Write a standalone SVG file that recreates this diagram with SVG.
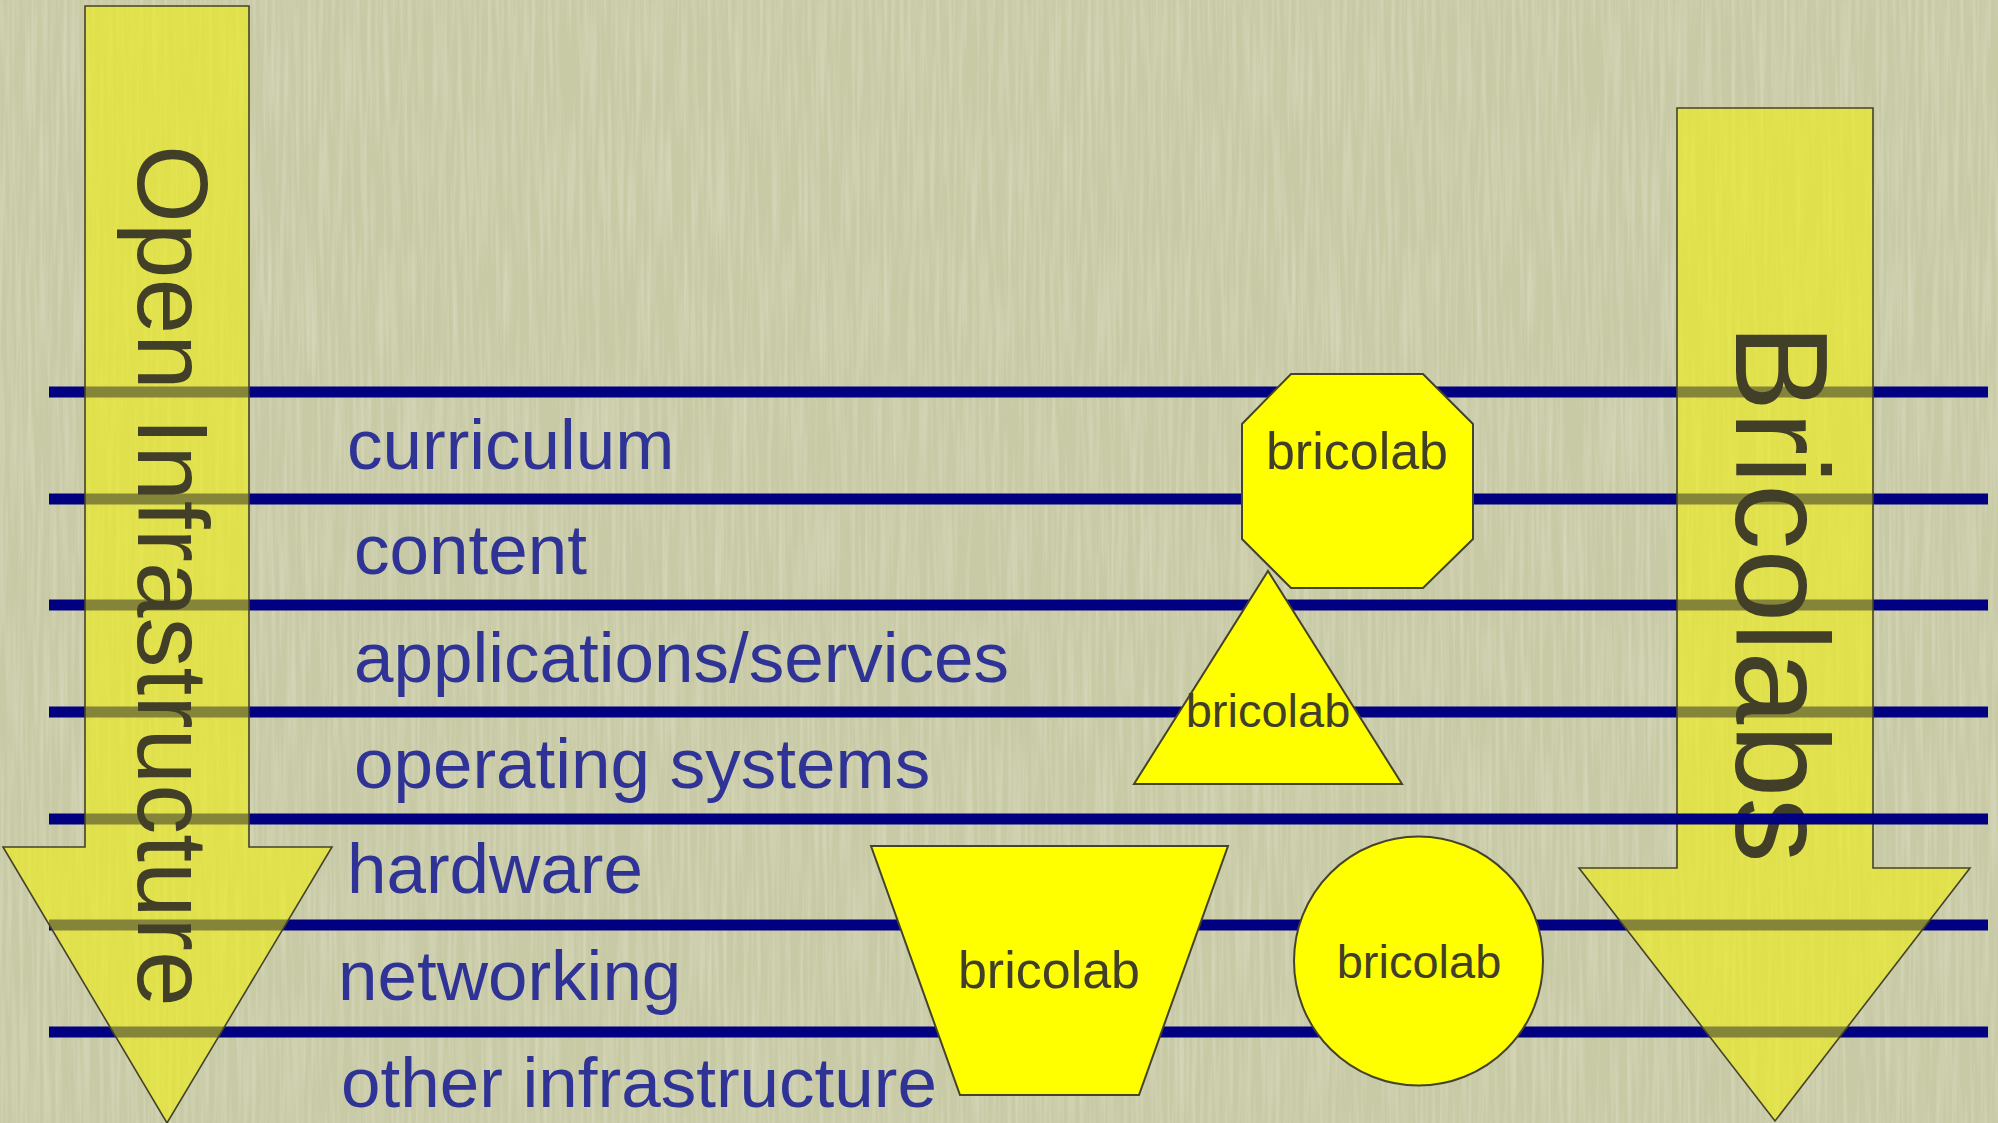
<svg xmlns="http://www.w3.org/2000/svg" width="1998" height="1123" viewBox="0 0 1998 1123">
  <style>
    .layer { stroke: #000080; stroke-width: 11; }
    .arrow { fill: #f2f300; fill-opacity: 0.55; stroke: #45432a; stroke-width: 1.6; }
    .shape { fill: #ffff00; stroke: #45432a; stroke-width: 2; }
    .big { font-family: "Liberation Sans", Arial, sans-serif; fill: #423f29; }
    .label { font-family: "Liberation Sans", Arial, sans-serif; font-size: 71px; fill: #2f3396; }
    .node { font-family: "Liberation Sans", Arial, sans-serif; fill: #423f29; text-anchor: middle; }
  </style>
  <defs>
    <filter id="tex" x="0" y="0" width="100%" height="100%">
      <feTurbulence type="fractalNoise" baseFrequency="0.25 0.008" numOctaves="2" seed="7" result="n"/>
      <feColorMatrix in="n" type="matrix" values="0 0 0 0 0.86  0 0 0 0 0.87  0 0 0 0 0.74  0.7 0 0 0 -0.28"/>
    </filter>
  </defs>

  <g id="background">
    <rect x="0" y="0" width="1998" height="1123" fill="#c8caa6"/>
    <rect x="0" y="0" width="1998" height="1123" filter="url(#tex)"/>
  </g>

  <g id="connectors">
    <line class="layer" x1="49" y1="392" x2="1988" y2="392"/>
    <line class="layer" x1="49" y1="499" x2="1988" y2="499"/>
    <line class="layer" x1="49" y1="605" x2="1988" y2="605"/>
    <line class="layer" x1="49" y1="712" x2="1988" y2="712"/>
    <line class="layer" x1="49" y1="925" x2="1988" y2="925"/>
    <line class="layer" x1="49" y1="1032" x2="1988" y2="1032"/>
  </g>

  <g id="bricolabs-arrow">
    <polygon class="arrow" points="1677,108 1873,108 1873,868 1970,868 1775,1121 1579,868 1677,868"/>
    <text class="big" font-size="131" transform="translate(1736,324) rotate(90)">Bricolabs</text>
  </g>

  <g id="connector-hardware">
    <line class="layer" x1="49" y1="819" x2="1988" y2="819"/>
  </g>

  <g id="open-infrastructure-arrow">
    <polygon class="arrow" points="85,6 249,6 249,847 332,847 167,1123 3,847 85,847"/>
    <text class="big" font-size="100" transform="translate(138,145) rotate(90)">Open Infrastructure</text>
  </g>

  <g id="labels">
    <text class="label" x="347" y="469">curriculum</text>
    <text class="label" x="354" y="574">content</text>
    <text class="label" x="354" y="682">applications/services</text>
    <text class="label" x="354" y="788">operating systems</text>
    <text class="label" x="347" y="893">hardware</text>
    <text class="label" x="338" y="1000">networking</text>
    <text class="label" x="341" y="1107">other infrastructure</text>
  </g>

  <g id="bricolab-octagon">
    <polygon class="shape" points="1291,374 1423,374 1473,424 1473,539 1423,588 1291,588 1242,539 1242,424"/>
    <text class="node" font-size="52" x="1357" y="469">bricolab</text>
  </g>

  <g id="bricolab-triangle">
    <polygon class="shape" points="1268,571 1402,784 1134,784"/>
    <text class="node" font-size="47" x="1268" y="727">bricolab</text>
  </g>

  <g id="bricolab-trapezoid">
    <polygon class="shape" points="871,846 1228,846 1139,1095 960,1095"/>
    <text class="node" font-size="52" x="1049" y="988">bricolab</text>
  </g>

  <g id="bricolab-circle">
    <circle class="shape" cx="1418.5" cy="961" r="124.5"/>
    <text class="node" font-size="47" x="1419" y="978">bricolab</text>
  </g>
</svg>
